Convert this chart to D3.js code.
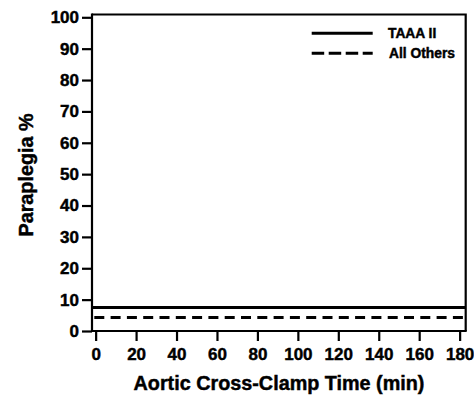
<!DOCTYPE html>
<html>
<head>
<meta charset="utf-8">
<script src="https://cdn.jsdelivr.net/npm/d3@7"></script>
<style>
  html, body { margin: 0; padding: 0; background: #fff; }
  svg { display: block; }
  svg text { font-family: 'Liberation Sans', Arial, sans-serif; font-weight: bold; fill: #000; stroke: #000; stroke-width: 0.45px; }
</style>
</head>
<body>
<div id="chart"></div>
<script>
// data
const seriesNames = ['TAAA II', 'All Others'];
const seriesRates = [7.5, 4.3]; // paraplegia %, flat over clamp time
const xTicks = [0, 20, 40, 60, 80, 100, 120, 140, 160, 180];
const yTicks = [0, 10, 20, 30, 40, 50, 60, 70, 80, 90, 100];

const width = 474;
const height = 395;

const svg = d3.select('#chart')
  .append('svg')
  .attr('width', width)
  .attr('height', height);

const x = d3.scaleLinear().domain([-1.8, 183]).range([92, 465.7]);
const y = d3.scaleLinear().domain([0, 100]).range([331, 17.3]);
const boxTop = 14.5;

// frame (top and right), axes take care of left and bottom
svg.append('path')
  .attr('d', `M${x.range()[0]},${boxTop}H${x.range()[1]}V${y(0)}`)
  .attr('fill', 'none')
  .attr('stroke', '#000')
  .attr('stroke-width', 2.2);

const yAxis = svg.append('g')
  .attr('transform', `translate(${x.range()[0]},0)`)
  .call(d3.axisLeft(y).tickValues(yTicks).tickSize(10).tickPadding(3).tickSizeOuter(0));

const xAxis = svg.append('g')
  .attr('transform', `translate(0,${y(0)})`)
  .call(d3.axisBottom(x).tickValues(xTicks).tickSize(10).tickPadding(7).tickSizeOuter(0));

[xAxis, yAxis].forEach((g) => {
  g.attr('font-family', null).attr('font-size', null);
  g.select('.domain').remove();
  g.selectAll('.tick line').attr('stroke-width', 2.2);
  g.selectAll('text').style('font-size', '17px');
});

// left and bottom axis lines, drawn over the full box
svg.append('line')
  .attr('x1', x.range()[0]).attr('x2', x.range()[0])
  .attr('y1', boxTop - 1).attr('y2', y(0) + 1)
  .attr('stroke', '#000').attr('stroke-width', 2.2);
svg.append('line')
  .attr('x1', x.range()[0]).attr('x2', x.range()[1] + 1)
  .attr('y1', y(0)).attr('y2', y(0))
  .attr('stroke', '#000').attr('stroke-width', 2.2);

// series lines
const dashes = [null, '10,6.3'];
const line = d3.line().x((d) => x(d[0])).y((d) => y(d[1]));

seriesRates.forEach((rate, i) => {
  const pts = x.domain().map((t) => [t, rate]);
  svg.append('path')
    .datum(pts)
    .attr('fill', 'none')
    .attr('stroke', '#000')
    .attr('stroke-width', 3)
    .attr('stroke-dasharray', dashes[i])
    .attr('stroke-dashoffset', i ? -2.3 : 0)
    .attr('d', line);
});

// legend
const legend = svg.append('g');
const legendDash = [null, '12.5,4.5'];
seriesNames.forEach((name, i) => {
  const ly = 33.3 + i * 20;
  legend.append('line')
    .attr('x1', 311.7).attr('x2', 372.7)
    .attr('y1', ly).attr('y2', ly)
    .attr('stroke', '#000')
    .attr('stroke-width', 3)
    .attr('stroke-dasharray', legendDash[i]);
  legend.append('text')
    .attr('x', 388 + i)
    .attr('y', ly + 5)
    .style('font-size', '13.8px')
    .text(name);
});

// axis titles
svg.append('text')
  .attr('x', 279)
  .attr('y', 390)
  .attr('text-anchor', 'middle')
  .style('font-size', '19.8px')
  .text('Aortic Cross-Clamp Time (min)');

svg.append('text')
  .attr('transform', 'translate(32.5,175) rotate(-90)')
  .attr('text-anchor', 'middle')
  .style('font-size', '19.8px')
  .text('Paraplegia %');
</script>
</body>
</html>
